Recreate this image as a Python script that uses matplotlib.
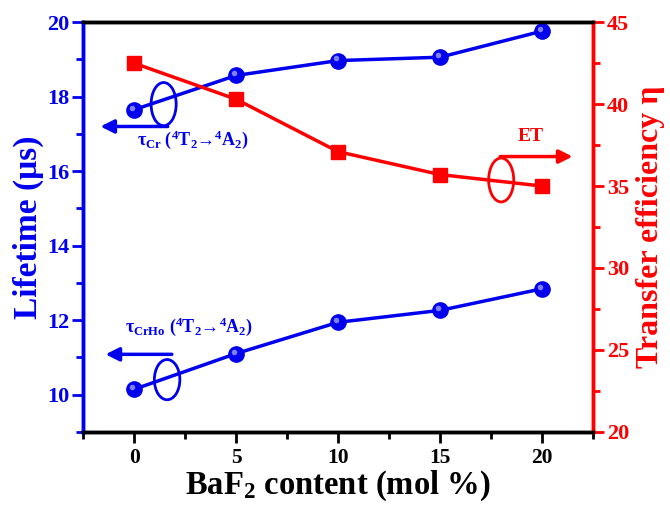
import matplotlib
matplotlib.use('Agg')
import matplotlib.pyplot as plt
import matplotlib.transforms as mtransforms
from matplotlib.patches import Ellipse

plt.rcParams['font.family'] = ['Liberation Serif', 'DejaVu Serif']
plt.rcParams['font.weight'] = 'bold'
plt.rcParams['mathtext.fontset'] = 'custom'
plt.rcParams['mathtext.rm'] = 'Liberation Serif:bold'
plt.rcParams['mathtext.it'] = 'Liberation Serif:bold'
plt.rcParams['mathtext.bf'] = 'Liberation Serif:bold'

baf2 = [0, 5, 10, 15, 20]
tau_cr = [17.65, 18.57, 18.97, 19.06, 19.76]
tau_crho = [10.14, 11.10, 11.94, 12.26, 12.84]
efficiency = [42.5, 40.3, 37.1, 35.7, 35.0]

blue = '#0000ee'
red = '#ff0000'

fig = plt.figure(figsize=(6.7, 5.05), dpi=100)
ax = fig.add_axes([0.124, 0.145, 0.761, 0.811])
ax2 = ax.twinx()

# blue "sphere" markers: base dot plus a small light highlight
hl = mtransforms.offset_copy(ax.transData, fig=fig, x=-1.5, y=1.5, units='points')
for ys in (tau_cr, tau_crho):
    ax.plot(baf2, ys, '-', color=blue, lw=2.5, marker='o', ms=11,
            mfc=blue, mec=blue, zorder=3)
    ax.plot(baf2, ys, 'o', ms=4, mfc='#8080ff', mec='none', transform=hl, zorder=4)

ax2.plot(baf2, efficiency, '-', color=red, lw=2.5, marker='s', ms=10,
         mfc=red, mec=red, zorder=3)

ax.set_xlim(-2.5, 22.5)
ax.set_ylim(9, 20)
ax2.set_ylim(20, 45)

ax.set_xticks([0, 5, 10, 15, 20])
ax.set_xticks([-2.5, 2.5, 7.5, 12.5, 17.5, 22.5], minor=True)
ax.set_yticks([10, 12, 14, 16, 18, 20])
ax.set_yticks([9, 11, 13, 15, 17, 19], minor=True)
ax2.set_yticks([20, 25, 30, 35, 40, 45])
ax2.set_yticks([22.5, 27.5, 32.5, 37.5, 42.5], minor=True)

for a in (ax, ax2):
    for s in a.spines.values():
        s.set_linewidth(2.5)
    a.spines['top'].set_color('black')
    a.spines['bottom'].set_color('black')
ax2.spines['left'].set_color(blue)
ax2.spines['right'].set_color(red)
ax.spines['left'].set_color(blue)
ax.spines['right'].set_color(red)

ax.tick_params(axis='x', which='both', direction='out', width=2, colors='black',
               labelsize=15.5, pad=4)
ax.tick_params(axis='x', which='major', length=8)
ax.tick_params(axis='x', which='minor', length=5)
ax.tick_params(axis='y', which='both', direction='out', width=2, colors=blue,
               labelsize=16, pad=2)
ax.tick_params(axis='y', which='major', length=8)
ax.tick_params(axis='y', which='minor', length=5)
ax2.tick_params(axis='y', which='both', direction='out', width=2, colors=red,
                labelsize=16, pad=2)
ax2.tick_params(axis='y', which='major', length=8)
ax2.tick_params(axis='y', which='minor', length=5)

ax.set_xlabel(r'BaF$_2$ content (mol %)', fontsize=23.5, fontweight='bold', labelpad=0)
ax.set_ylabel('Lifetime (μs)', fontsize=24, fontweight='bold', color=blue, labelpad=2)
ax2.set_ylabel('Transfer efficiency η', fontsize=23, fontweight='bold', color=red,
               labelpad=5)

# tau_Cr annotation
ax.add_patch(Ellipse((1.45, 17.8), 1.23, 1.16, fill=False, ec=blue, lw=2, zorder=5))
ax.annotate('', xy=(-1.65, 17.2), xytext=(1.65, 17.2),
            arrowprops=dict(arrowstyle='-|>', color=blue, lw=2.5,
                            mutation_scale=20, shrinkA=0, shrinkB=0))
ax.text(0.15, 16.85, r'$\tau_{Cr}$ ($^4$T$_2$→$^4$A$_2$)', color=blue,
        fontsize=13, va='center', ha='left')

# tau_CrHo annotation
ax.add_patch(Ellipse((1.62, 10.4), 1.25, 1.08, fill=False, ec=blue, lw=2, zorder=5))
ax.annotate('', xy=(-1.4, 11.08), xytext=(1.85, 11.08),
            arrowprops=dict(arrowstyle='-|>', color=blue, lw=2.5,
                            mutation_scale=20, shrinkA=0, shrinkB=0))
ax.text(-0.45, 11.83, r'$\tau_{CrHo}$ ($^4$T$_2$→$^4$A$_2$)', color=blue,
        fontsize=13, va='center', ha='left')

# ET annotation
ax2.add_patch(Ellipse((18.0, 35.37), 1.23, 2.68, fill=False, ec=red, lw=2, zorder=5))
ax2.annotate('', xy=(21.5, 36.8), xytext=(17.95, 36.8),
             arrowprops=dict(arrowstyle='-|>', color=red, lw=2.5,
                             mutation_scale=20, shrinkA=0, shrinkB=0))
ax2.text(19.45, 38.0, 'ET', color=red, fontsize=14, ha='center', va='center')

fig.savefig('out.png', dpi=100)
